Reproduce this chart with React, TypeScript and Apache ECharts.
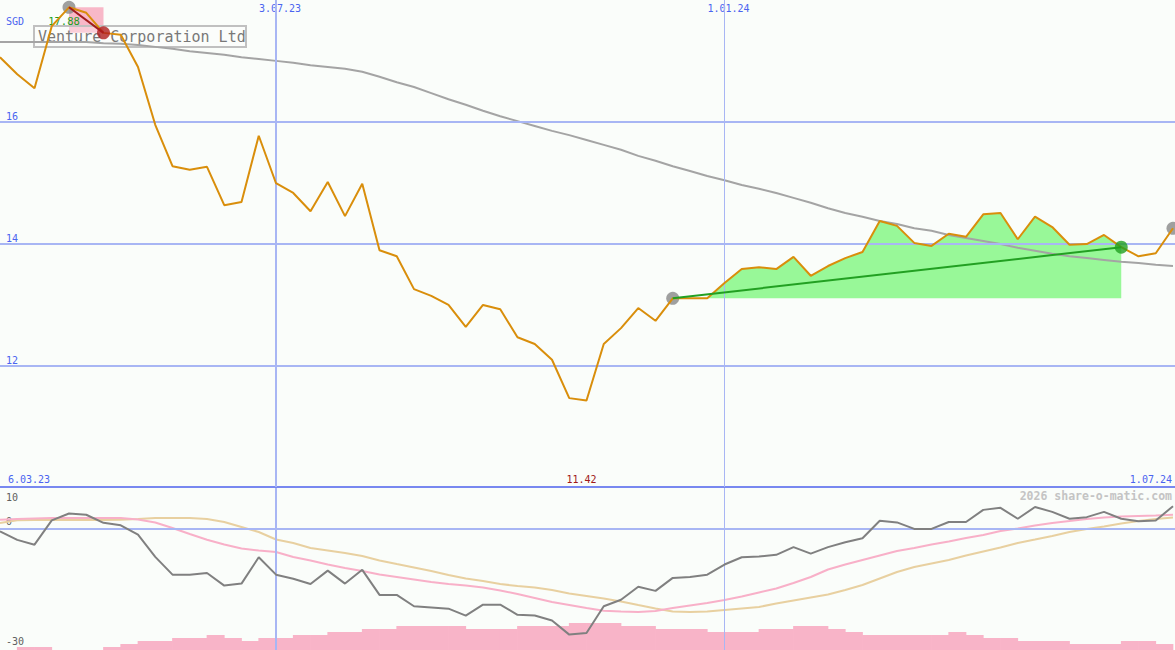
import React, { useEffect, useRef } from 'react';
import * as echarts from 'echarts';

// weekly closes, 13.03.23 .. 1.07.24 (index 0..68)
const price = [17.06, 16.78, 16.55, 17.57, 17.88, 17.79, 17.46, 17.43, 16.90, 15.95,
  15.27, 15.21, 15.26, 14.63, 14.68, 15.77, 14.99, 14.83, 14.53, 15.01,
  14.45, 14.98, 13.89, 13.79, 13.25, 13.14, 12.99, 12.63, 12.99, 12.92,
  12.46, 12.35, 12.09, 11.46, 11.42, 12.35, 12.61, 12.94, 12.73, 13.10,
  13.10, 13.10, 13.35, 13.58, 13.61, 13.58, 13.78, 13.47, 13.63, 13.76,
  13.86, 14.37, 14.29, 14.01, 13.96, 14.16, 14.11, 14.48, 14.50, 14.07,
  14.44, 14.27, 13.98, 13.99, 14.14, 13.94, 13.79, 13.84, 14.25];

const movingAvg = [17.31, 17.31, 17.31, 17.31, 17.31, 17.31, 17.29, 17.28, 17.26, 17.23,
  17.20, 17.16, 17.13, 17.10, 17.06, 17.03, 17.00, 16.97, 16.93, 16.90,
  16.87, 16.82, 16.74, 16.65, 16.57, 16.47, 16.37, 16.28, 16.18, 16.09,
  16.01, 15.93, 15.85, 15.78, 15.70, 15.62, 15.54, 15.44, 15.36, 15.27,
  15.19, 15.11, 15.04, 14.96, 14.90, 14.83, 14.75, 14.67, 14.58, 14.50,
  14.44, 14.37, 14.32, 14.25, 14.21, 14.14, 14.09, 14.04, 13.99, 13.93,
  13.88, 13.83, 13.79, 13.76, 13.73, 13.70, 13.68, 13.65, 13.63];

const momentum = [-0.7, -2.8, -4.0, 2.0, 3.7, 3.4, 1.4, 0.8, -1.5, -7.0,
  -11.4, -11.4, -11.0, -14.1, -13.6, -7.1, -11.4, -12.4, -13.7, -10.4,
  -13.6, -10.2, -16.4, -16.4, -19.2, -19.5, -19.8, -21.5, -18.8, -18.8,
  -21.3, -21.5, -22.7, -26.2, -25.8, -19.2, -17.6, -14.4, -15.4, -12.2,
  -12.0, -11.4, -8.9, -7.1, -6.9, -6.5, -4.6, -6.2, -4.6, -3.4,
  -2.4, 1.9, 1.5, -0.1, -0.1, 1.6, 1.6, 4.6, 5.1, 2.4,
  5.3, 4.1, 2.4, 2.8, 4.1, 2.4, 1.8, 2.0, 5.5];

const momentumFast = [2.17, 2.35, 2.47, 2.59, 2.59, 2.59, 2.59, 2.59, 2.22, 1.48,
  0.12, -1.36, -2.77, -3.95, -4.94, -5.43, -5.80, -7.04, -7.90, -8.89,
  -9.75, -10.49, -11.36, -11.98, -12.59, -13.21, -13.70, -14.07, -14.57, -15.31,
  -16.17, -17.16, -18.15, -18.89, -19.63, -20.30, -20.49, -20.62, -20.37, -19.63,
  -19.01, -18.40, -17.65, -16.79, -15.80, -14.81, -13.46, -11.98, -10.12, -8.89,
  -7.78, -6.67, -5.56, -4.81, -3.95, -3.21, -2.35, -1.60, -0.62, 0.0,
  0.74, 1.36, 1.85, 2.35, 2.72, 2.96, 3.09, 3.21, 3.41];

const momentumSlow = [1.36, 2.02, 2.10, 2.17, 2.10, 2.10, 2.10, 2.17, 2.35, 2.59,
  2.59, 2.59, 2.35, 1.60, 0.37, -0.86, -2.72, -3.58, -4.81, -5.43,
  -6.05, -6.79, -7.90, -8.77, -9.63, -10.49, -11.48, -12.35, -12.96, -13.70,
  -14.20, -14.57, -15.19, -16.05, -16.67, -17.28, -18.02, -18.89, -19.75, -20.49,
  -20.62, -20.49, -20.12, -19.75, -19.38, -18.52, -17.78, -17.04, -16.30, -15.19,
  -13.95, -12.35, -10.74, -9.51, -8.64, -7.78, -6.67, -5.68, -4.69, -3.58,
  -2.72, -1.85, -0.86, -0.12, 0.49, 1.23, 1.85, 2.35, 2.72];

// weekly volume (relative units), interval j covers week j..j+1
const volume = [0, 1, 1, 0, 0, 0, 1, 2, 3, 3,
  4, 4, 5, 4, 3, 4, 4, 5, 5, 6,
  6, 7, 7, 8, 8, 8, 8, 7, 7, 7,
  8, 8, 8, 9, 9, 9, 8, 8, 7, 7,
  7, 6, 6, 6, 7, 7, 8, 8, 7, 6,
  5, 5, 5, 5, 5, 6, 5, 4, 4, 3,
  3, 3, 2, 2, 2, 3, 3, 2];

const priceTicks = [12, 14, 16];
const dateLineIdx = [16, 42];
const dateLineLabels = ['3.07.23', '1.01.24'];
const startLabel = '6.03.23';
const endLabel = '1.07.24';
const peakIdx = 4;
const dropIdx = 6;
const lowIdx = 34;
const trendStart = 39;
const trendEnd = 65;
const lastIdx = 68;
const xMax = 68.116;

const MONO = '"DejaVu Sans Mono", monospace';
const BG = '#fafdfa';
const BLUE_TXT = '#4a64f0';
const GRID_BLUE = '#a8b6f4';

export default function App() {
  const ref = useRef<HTMLDivElement>(null);
  useEffect(() => {
    if (!ref.current) return;
    const chart = echarts.init(ref.current, undefined, { renderer: 'svg' });
    const pts = (arr: number[]) => arr.map((v, i) => [i, v]);
    const fillData = price.slice(trendStart, trendEnd + 1).map((v, k) => [trendStart + k, v]);
    const base = price[trendStart];

    const option: any = {
      animation: false,
      backgroundColor: BG,
      grid: [
        { left: 0, right: 0, top: 0, height: 487 },
        { left: 0, right: 0, top: 488, height: 162 },
      ],
      xAxis: [
        {
          gridIndex: 0, type: 'value', min: 0, max: xMax,
          axisLine: { show: true, onZero: false, lineStyle: { color: '#7888f0', width: 2 } },
          axisTick: { show: false }, axisLabel: { show: false }, splitLine: { show: false },
        },
        {
          gridIndex: 1, type: 'value', min: 0, max: xMax, show: false,
          splitLine: { show: false },
        },
      ],
      yAxis: [
        {
          gridIndex: 0, type: 'value', min: 10, max: 18, interval: 2,
          axisLine: { show: false }, axisTick: { show: false }, splitLine: { show: false },
          axisLabel: {
            inside: true, margin: 6, verticalAlign: 'bottom', color: BLUE_TXT,
            fontFamily: MONO, fontSize: 10, showMinLabel: false, showMaxLabel: false,
          },
        },
        { gridIndex: 1, type: 'value', min: -30, max: 10, show: false, splitLine: { show: false } },
        { gridIndex: 1, type: 'value', min: 0, max: 54, show: false, splitLine: { show: false } },
      ],
      series: [
        // green gain area
        {
          type: 'line', xAxisIndex: 0, yAxisIndex: 0, data: fillData, symbol: 'none', z: 1,
          lineStyle: { width: 0 }, areaStyle: { color: '#98f898', opacity: 1, origin: base }, silent: true,
        },
        // grid lines + drawdown box
        {
          type: 'line', xAxisIndex: 0, yAxisIndex: 0, data: pts(price), symbol: 'none', z: 2,
          lineStyle: { opacity: 0 }, silent: true,
          markLine: {
            silent: true, symbol: 'none', label: { show: false },
            lineStyle: { color: GRID_BLUE, width: 2, type: 'solid' },
            data: [
              ...priceTicks.map((t) => ({ yAxis: t })),
              { xAxis: dateLineIdx[0], lineStyle: { color: GRID_BLUE, width: 2, type: 'solid' } },
              { xAxis: dateLineIdx[1], lineStyle: { color: GRID_BLUE, width: 1, type: 'solid' } },
            ],
          },
          markArea: {
            silent: true, itemStyle: { color: '#f8b8c8', opacity: 1 }, label: { show: false },
            data: [[{ coord: [peakIdx, price[peakIdx]] }, { coord: [dropIdx, price[dropIdx]] }]],
          },
        },
        // moving average
        {
          type: 'line', xAxisIndex: 0, yAxisIndex: 0, data: pts(movingAvg), symbol: 'none', z: 3,
          lineStyle: { color: '#a4a4a4', width: 2 }, silent: true,
        },
        // gray markers
        {
          type: 'scatter', xAxisIndex: 0, yAxisIndex: 0, z: 4, symbolSize: 13,
          itemStyle: { color: '#888888' }, silent: true,
          data: [[peakIdx, price[peakIdx]], [trendStart, price[trendStart]], [lastIdx, price[lastIdx]]],
        },
        // price
        {
          type: 'line', xAxisIndex: 0, yAxisIndex: 0, data: pts(price), symbol: 'none', z: 5,
          lineStyle: { color: '#d98e0b', width: 2 }, silent: true,
        },
        // drawdown line
        {
          type: 'line', xAxisIndex: 0, yAxisIndex: 0, symbol: 'none', z: 6,
          data: [[peakIdx, price[peakIdx]], [dropIdx, price[dropIdx]]],
          lineStyle: { color: '#a01c1c', width: 2 }, silent: true,
        },
        {
          type: 'scatter', xAxisIndex: 0, yAxisIndex: 0, z: 7, symbolSize: 13,
          itemStyle: { color: '#b01e1e' }, data: [[dropIdx, price[dropIdx]]], silent: true,
        },
        // trend line
        {
          type: 'line', xAxisIndex: 0, yAxisIndex: 0, symbol: 'none', z: 6,
          data: [[trendStart, price[trendStart]], [trendEnd, price[trendEnd]]],
          lineStyle: { color: '#22a022', width: 2 }, silent: true,
        },
        {
          type: 'scatter', xAxisIndex: 0, yAxisIndex: 0, z: 7, symbolSize: 13,
          itemStyle: { color: '#22a022' }, data: [[trendEnd, price[trendEnd]]], silent: true,
        },
        // lower panel grid lines
        {
          type: 'line', xAxisIndex: 1, yAxisIndex: 1, data: pts(momentum), symbol: 'none', z: 1,
          lineStyle: { opacity: 0 }, silent: true,
          markLine: {
            silent: true, symbol: 'none', label: { show: false },
            lineStyle: { color: GRID_BLUE, width: 2, type: 'solid' },
            data: [
              { yAxis: 0 },
              { xAxis: dateLineIdx[0], lineStyle: { color: GRID_BLUE, width: 2, type: 'solid' } },
              { xAxis: dateLineIdx[1], lineStyle: { color: GRID_BLUE, width: 1, type: 'solid' } },
            ],
          },
        },
        // volume
        {
          type: 'bar', xAxisIndex: 1, yAxisIndex: 2, z: 2, barWidth: 18, silent: true,
          itemStyle: { color: '#f8b4c8' },
          data: volume.map((v, j) => [j + 0.5, v]),
        },
        {
          type: 'line', xAxisIndex: 1, yAxisIndex: 1, data: pts(momentumSlow), symbol: 'none', z: 3,
          lineStyle: { color: '#e8d0a0', width: 2 }, silent: true,
        },
        {
          type: 'line', xAxisIndex: 1, yAxisIndex: 1, data: pts(momentumFast), symbol: 'none', z: 4,
          lineStyle: { color: '#f8b0c8', width: 2 }, silent: true,
        },
        {
          type: 'line', xAxisIndex: 1, yAxisIndex: 1, data: pts(momentum), symbol: 'none', z: 5,
          lineStyle: { color: '#808080', width: 2 }, silent: true,
        },
      ],
    };
    chart.setOption(option);

    const px = (i: number, v: number) => chart.convertToPixel({ xAxisIndex: 0, yAxisIndex: 0 }, [i, v]) as number[];
    const txt = (text: string, x: number, y: number, fill: string, size: number, align = 'left', weight = 'normal') => ({
      type: 'text', x, y, z: 1, silent: true,
      style: { text, fill, fontSize: size, fontFamily: MONO, fontWeight: weight, align, verticalAlign: 'middle' },
    });
    const peakPx = px(peakIdx, price[peakIdx]);
    const lowPx = px(lowIdx, price[lowIdx]);
    const d0 = px(dateLineIdx[0], 18);
    const d1 = px(dateLineIdx[1], 18);

    chart.setOption({
      graphic: [
        {
          type: 'rect', z: 1, silent: true,
          shape: { x: 34, y: 26, width: 212, height: 21 },
          style: { fill: 'rgba(255,255,255,0.3)', stroke: '#c0c0c0', lineWidth: 2 },
        },
        txt('Venture Corporation Ltd', 38, 37, '#787878', 15),
        txt('SGD', 6, 21, BLUE_TXT, 10),
        txt(price[peakIdx].toFixed(2), peakPx[0] - 5, 21, '#22a022', 10.5, 'center'),
        txt(dateLineLabels[0], d0[0] + 4, 8, BLUE_TXT, 10, 'center'),
        txt(dateLineLabels[1], d1[0] + 4, 8, BLUE_TXT, 10, 'center'),
        txt(startLabel, 8, 479, BLUE_TXT, 10),
        txt(price[lowIdx].toFixed(2), lowPx[0] - 5, 479, '#a01818', 10, 'center'),
        txt(endLabel, 1172, 479, BLUE_TXT, 10, 'right'),
        txt('2026 share-o-matic.com', 1172, 496, '#c4c4c4', 11.5, 'right', 'bold'),
        txt('10', 6, 497, '#606060', 10),
        txt('0', 6, 521, '#606060', 10),
        txt('-30', 6, 641, '#606060', 10),
      ],
    });

    return () => chart.dispose();
  }, []);

  return (
    <div
      ref={ref}
      style={{ position: 'fixed', left: 0, top: 0, width: 1175, height: 650, background: BG }}
    />
  );
}
